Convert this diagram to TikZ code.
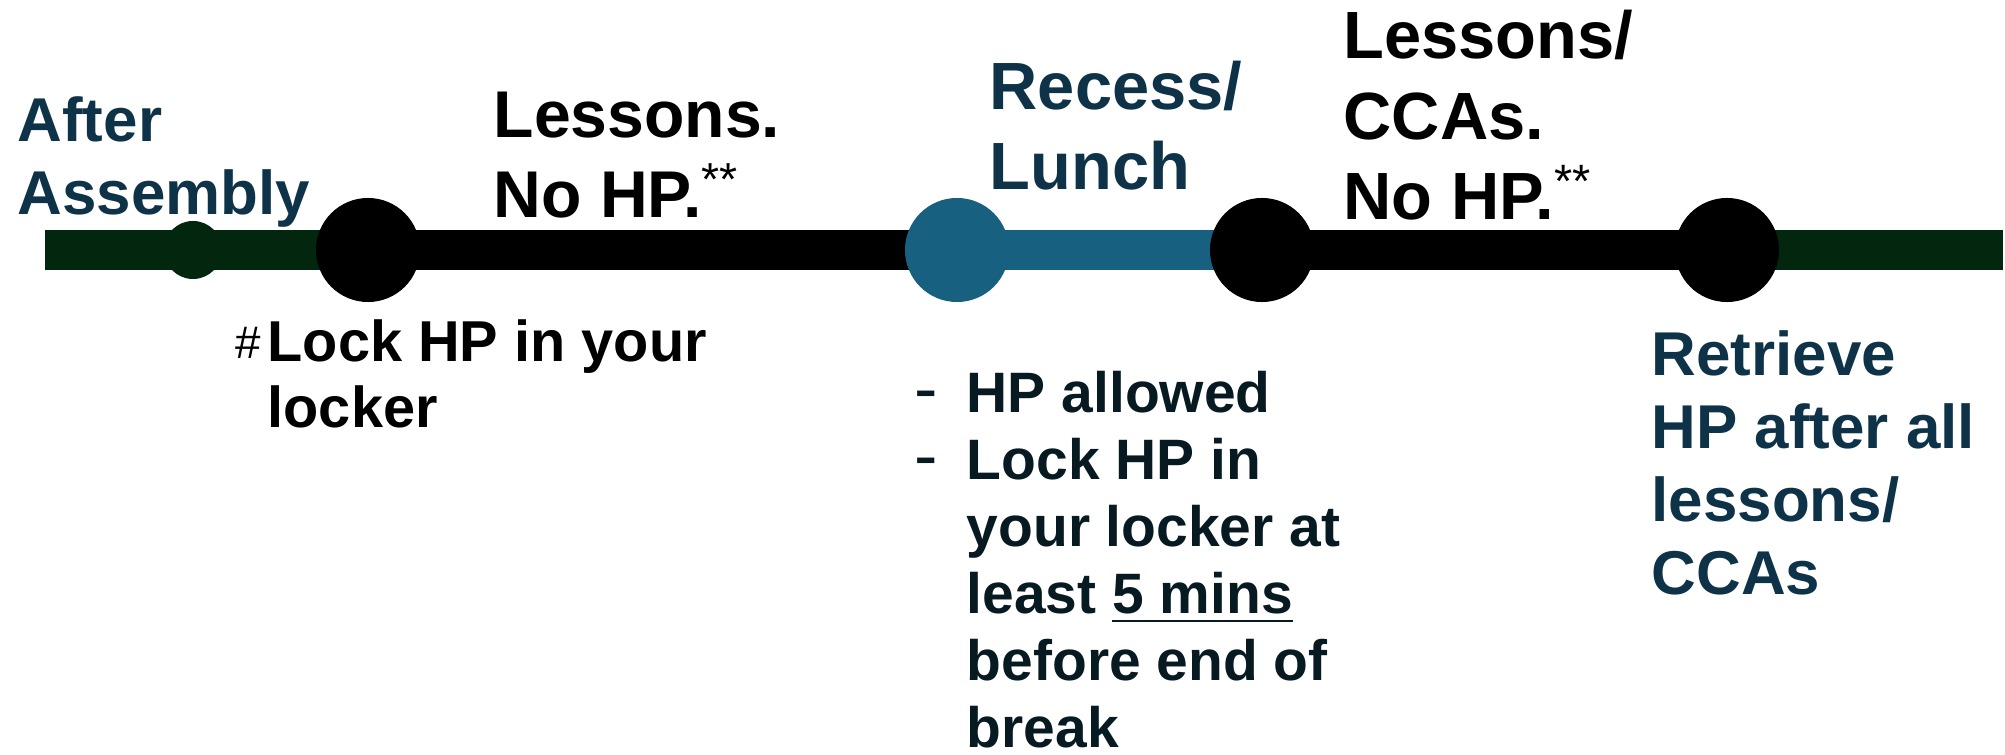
\documentclass[tikz,border=0pt]{standalone}
\usepackage{fontspec}
\setmainfont{Liberation Sans}
\usetikzlibrary{backgrounds}

\definecolor{lineGreen}{HTML}{03260E}
\definecolor{recessBlue}{HTML}{17607F}
\definecolor{labelBlue}{HTML}{0E3248}
\definecolor{noteBlack}{HTML}{071A22}

\newcommand{\hangdash}{\makebox[14.8pt][l]{\normalfont\fontsize{20}{20}\selectfont -}}
\newcommand{\hangskip}{\hspace*{14.8pt}}
\newcommand{\starnote}{\textsuperscript{\normalfont **}}
\newcommand{\thickunder}[1]{\setbox0\hbox{#1}\rlap{\rule[-2.3pt]{\wd0}{0.65pt}}\box0}

\begin{document}
\begin{tikzpicture}[x=0.01cm,y=-0.01cm,
  bar/.style={line width=11.4pt},
  bigdot/.style={circle,inner sep=0pt,minimum size=1.04cm,fill=black},
  smalldot/.style={circle,inner sep=0pt,minimum size=0.58cm,fill=lineGreen},
  lbl/.style={anchor=base west,inner sep=0pt,align=left},
  bluelbl/.style={lbl,text=labelBlue,font=\bfseries\fontsize{17.6}{20.8}\selectfont},
  blacklbl/.style={lbl,text=black,font=\bfseries\fontsize{19}{23}\selectfont}]
  \useasboundingbox (0,0) rectangle (2005,755);

  % timeline stops
  \coordinate (start) at (45,250);
  \coordinate (finish) at (2003,250);
  \node[smalldot] (assembly) at (193,250) {};
  \node[bigdot] (lessonsA) at (368,250) {};
  \node[bigdot,fill=recessBlue] (recess) at (957,250) {};
  \node[bigdot] (lessonsB) at (1262,250) {};
  \node[bigdot] (retrieve) at (1727,250) {};

  % bars between the stops
  \begin{pgfonlayer}{background}
    \draw[bar,lineGreen] (start) -- (lessonsA.center);
    \draw[bar,black] (lessonsA.center) -- (recess.center);
    \draw[bar,recessBlue] (recess.center) -- (lessonsB.center);
    \draw[bar,black] (lessonsB.center) -- (retrieve.center);
    \draw[bar,lineGreen] (retrieve.center) -- (finish);
  \end{pgfonlayer}

  % labels above the line (placed by the baseline of their last line)
  \node[bluelbl] (afterTxt) at (17,215) {After\\Assembly};
  \node[blacklbl,font=\bfseries\fontsize{18.8}{23}\selectfont] (lessonsTxt) at (493,218) {Lessons.\\No HP.\starnote};
  \node[bluelbl,font=\bfseries\fontsize{19}{22.8}\selectfont] (recessTxt) at (989,190) {Recess/\\Lunch};
  \node[blacklbl] (ccaTxt) at (1343,220) {Lessons/\\CCAs.\\No HP.\starnote};

  % labels below the line
  \node[lbl,font=\bfseries\fontsize{16.4}{18.8}\selectfont] (lockTxt) at (267,428)
    {\llap{\raisebox{1pt}{\normalfont\fontsize{13}{13}\selectfont\#}\hspace{2pt}}Lock HP in your\\locker};
  \node[lbl,text=noteBlack,font=\bfseries\fontsize{16.2}{19.06}\selectfont] (breakTxt) at (914,748)
    {\hangdash HP allowed\\
     \hangdash Lock HP in\\
     \hangskip your locker at\\
     \hangskip least \thickunder{5 mins}\\
     \hangskip before end of\\
     \hangskip break};
  \node[bluelbl] (retrieveTxt) at (1651,595) {Retrieve\\HP after all\\lessons/\\CCAs};
\end{tikzpicture}
\end{document}
